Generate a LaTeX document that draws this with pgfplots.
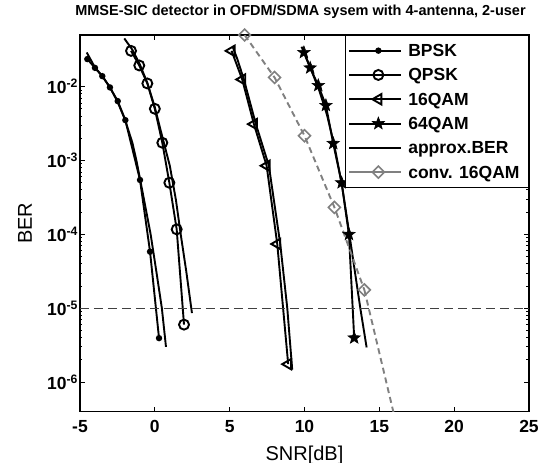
\documentclass[border=0pt]{standalone}
\usepackage{fontspec}
\setmainfont{Liberation Sans}
\usepackage{pgfplots}
\pgfplotsset{compat=1.18}

% filled five-pointed star, like the MATLAB 'p' marker
\pgfdeclareplotmark{fstar}{%
  \pgfpathmoveto{\pgfpointpolar{90}{\pgfplotmarksize}}%
  \pgfpathlineto{\pgfpointpolar{126}{0.42\pgfplotmarksize}}%
  \pgfpathlineto{\pgfpointpolar{162}{\pgfplotmarksize}}%
  \pgfpathlineto{\pgfpointpolar{198}{0.42\pgfplotmarksize}}%
  \pgfpathlineto{\pgfpointpolar{234}{\pgfplotmarksize}}%
  \pgfpathlineto{\pgfpointpolar{270}{0.42\pgfplotmarksize}}%
  \pgfpathlineto{\pgfpointpolar{306}{\pgfplotmarksize}}%
  \pgfpathlineto{\pgfpointpolar{342}{0.42\pgfplotmarksize}}%
  \pgfpathlineto{\pgfpointpolar{18}{\pgfplotmarksize}}%
  \pgfpathlineto{\pgfpointpolar{54}{0.42\pgfplotmarksize}}%
  \pgfpathclose
  \pgfusepathqfillstroke}

\begin{document}
\begin{tikzpicture}
\useasboundingbox (-80pt,-51.5pt) rectangle (462pt,411.5pt);

\begin{axis}[%
width=449pt,
height=376.5pt,
scale only axis,
ymode=log,
xmin=-5, xmax=25,
ymin=4e-7, ymax=0.05,
xtick={-5,0,5,10,15,20,25},
xticklabels={-5,0,5,10,15,20,25},
ytick={1e-6,1e-5,1e-4,1e-3,1e-2},
yticklabels={10\textsuperscript{-6},10\textsuperscript{-5},10\textsuperscript{-4},10\textsuperscript{-3},10\textsuperscript{-2}},
tick align=inside,
major tick length=5pt,
minor tick length=2.5pt,
every tick/.style={black, line width=0.8pt},
axis line style={black, line width=1.2pt},
every tick label/.append style={font=\fontsize{17.5}{17.5}\bfseries\selectfont},
xticklabel style={yshift=-5pt},
yticklabel style={xshift=1.5pt},
title={MMSE-SIC detector in OFDM/SDMA sysem with 4-antenna, 2-user},
title style={font=\fontsize{14.5}{17}\bfseries\selectfont, at={(0.5,1)}, anchor=base, yshift=14pt, xshift=-4pt},
xlabel={SNR[dB]},
xlabel style={font=\fontsize{20}{20}\selectfont, at={(0.5,0)}, anchor=base, yshift=-48.5pt},
ylabel={BER},
ylabel style={font=\fontsize{20}{20}\selectfont, at={(axis description cs:-0.1225,0.5)}, anchor=center},
legend style={at={(1,1)}, anchor=north east, draw=black, line width=1pt, fill=white,
  inner xsep=3pt, inner ysep=3pt,
  font=\fontsize{17.5}{21}\bfseries\selectfont,
  nodes={inner xsep=6pt, inner ysep=0pt, text height=18pt, text depth=6.3pt}},
legend cell align=left,
legend image code/.code={%
  \path (0pt,0pt) -- (52pt,0pt);
  \draw[mark repeat=2,mark phase=2,#1] plot coordinates {(6pt,0pt) (29pt,0pt) (52pt,0pt)};}
]

% BPSK
\addplot [black, line width=1.9pt, mark=*, mark size=2.2pt]
 coordinates {(-4.51,0.0236) (-4.0,0.01795) (-3.51,0.01387) (-3.0,0.00976) (-2.48,0.00637)
 (-1.97,0.00352) (-0.99,5.45e-4) (-0.32,5.83e-5) (0.28,3.94e-6)};
\addlegendentry{BPSK};

% QPSK
\addplot [black, line width=1.9pt, mark=o, mark size=5pt]
 coordinates {(-1.59,0.0305) (-1.04,0.01935) (-0.5,0.01104) (0,0.00501) (0.5,0.00174)
 (0.97,5.0e-4) (1.46,1.17e-4) (1.95,6.0e-6)};
\addlegendentry{QPSK};

% 16QAM
\addplot [black, line width=1.9pt, mark=triangle, mark size=6pt, mark options={rotate=90}]
 coordinates {(5.13,0.0305) (5.84,0.0125) (6.62,0.00311) (7.47,8.49e-4) (8.18,7.41e-5) (8.91,1.75e-6)};
\addlegendentry{16QAM};

% 64QAM
\addplot [black, line width=1.9pt, mark=fstar, mark size=6.5pt, mark options={line width=0.6pt}]
 coordinates {(9.96,0.029) (10.38,0.01795) (10.92,0.01038) (11.43,0.00557) (11.92,0.001706)
 (12.48,5.0e-4) (12.97,1.0e-4) (13.32,3.97e-6)};
\addlegendentry{64QAM};

% approximate BER curves
\addplot [black, line width=1.9pt]
 coordinates {(-4.55,0.029) (-4,0.0182) (-3.5,0.0138) (-3,0.0098) (-2.5,0.0063) (-2,0.0036)
 (-1.5,0.00174) (-1.23,1e-3) (-0.75,3.16e-4) (-0.28,1e-4) (0.1,3.16e-5) (0.47,1e-5) (0.745,3.0e-6)};
\addlegendentry{approx.BER};

\addplot [black, line width=1.9pt, forget plot]
 coordinates {(-2.04,0.0449) (-1.5,0.0316) (-1,0.01995) (-0.5,0.01122) (0,0.00525) (0.5,0.00209)
 (1,8.5e-4) (1.41,2.92e-4) (1.73,1.0e-4) (2.1,3.16e-5) (2.48,8.6e-6)};

\addplot [black, line width=1.9pt, forget plot]
 coordinates {(5.2,0.0347) (5.5,0.024) (5.95,0.0125) (6.75,0.00311) (7.62,8.49e-4) (8.38,7.41e-5)
 (8.85,1e-5) (9.18,1.47e-6)};

\addplot [black, line width=1.9pt, forget plot]
 coordinates {(9.8,0.0347) (10,0.0282) (10.5,0.01585) (11,0.0087) (11.5,0.00417) (12,0.00158)
 (12.5,4.68e-4) (13,1e-4) (13.4,2.82e-5) (13.73,1e-5) (14.15,2.95e-6)};

% conventional 16QAM
\addplot [black!50, line width=1.9pt, dash pattern=on 6pt off 4pt, mark=square, mark size=4.2pt,
  mark options={solid, rotate=45, line width=1.6pt}]
 coordinates {(6,0.05) (8,0.0133) (10,0.00216) (12,2.32e-4) (14,1.77e-5)};
\addlegendentry{conv. 16QAM};

\addplot [black!50, line width=1.9pt, dash pattern=on 6pt off 4pt, forget plot]
 coordinates {(14,1.77e-5) (16,3.5e-7)};

% 1e-5 reference level
\addplot [black!75, line width=0.8pt, dash pattern=on 9pt off 5pt, forget plot]
 coordinates {(-5,1e-5) (25,1e-5)};

\end{axis}
\end{tikzpicture}
\end{document}
